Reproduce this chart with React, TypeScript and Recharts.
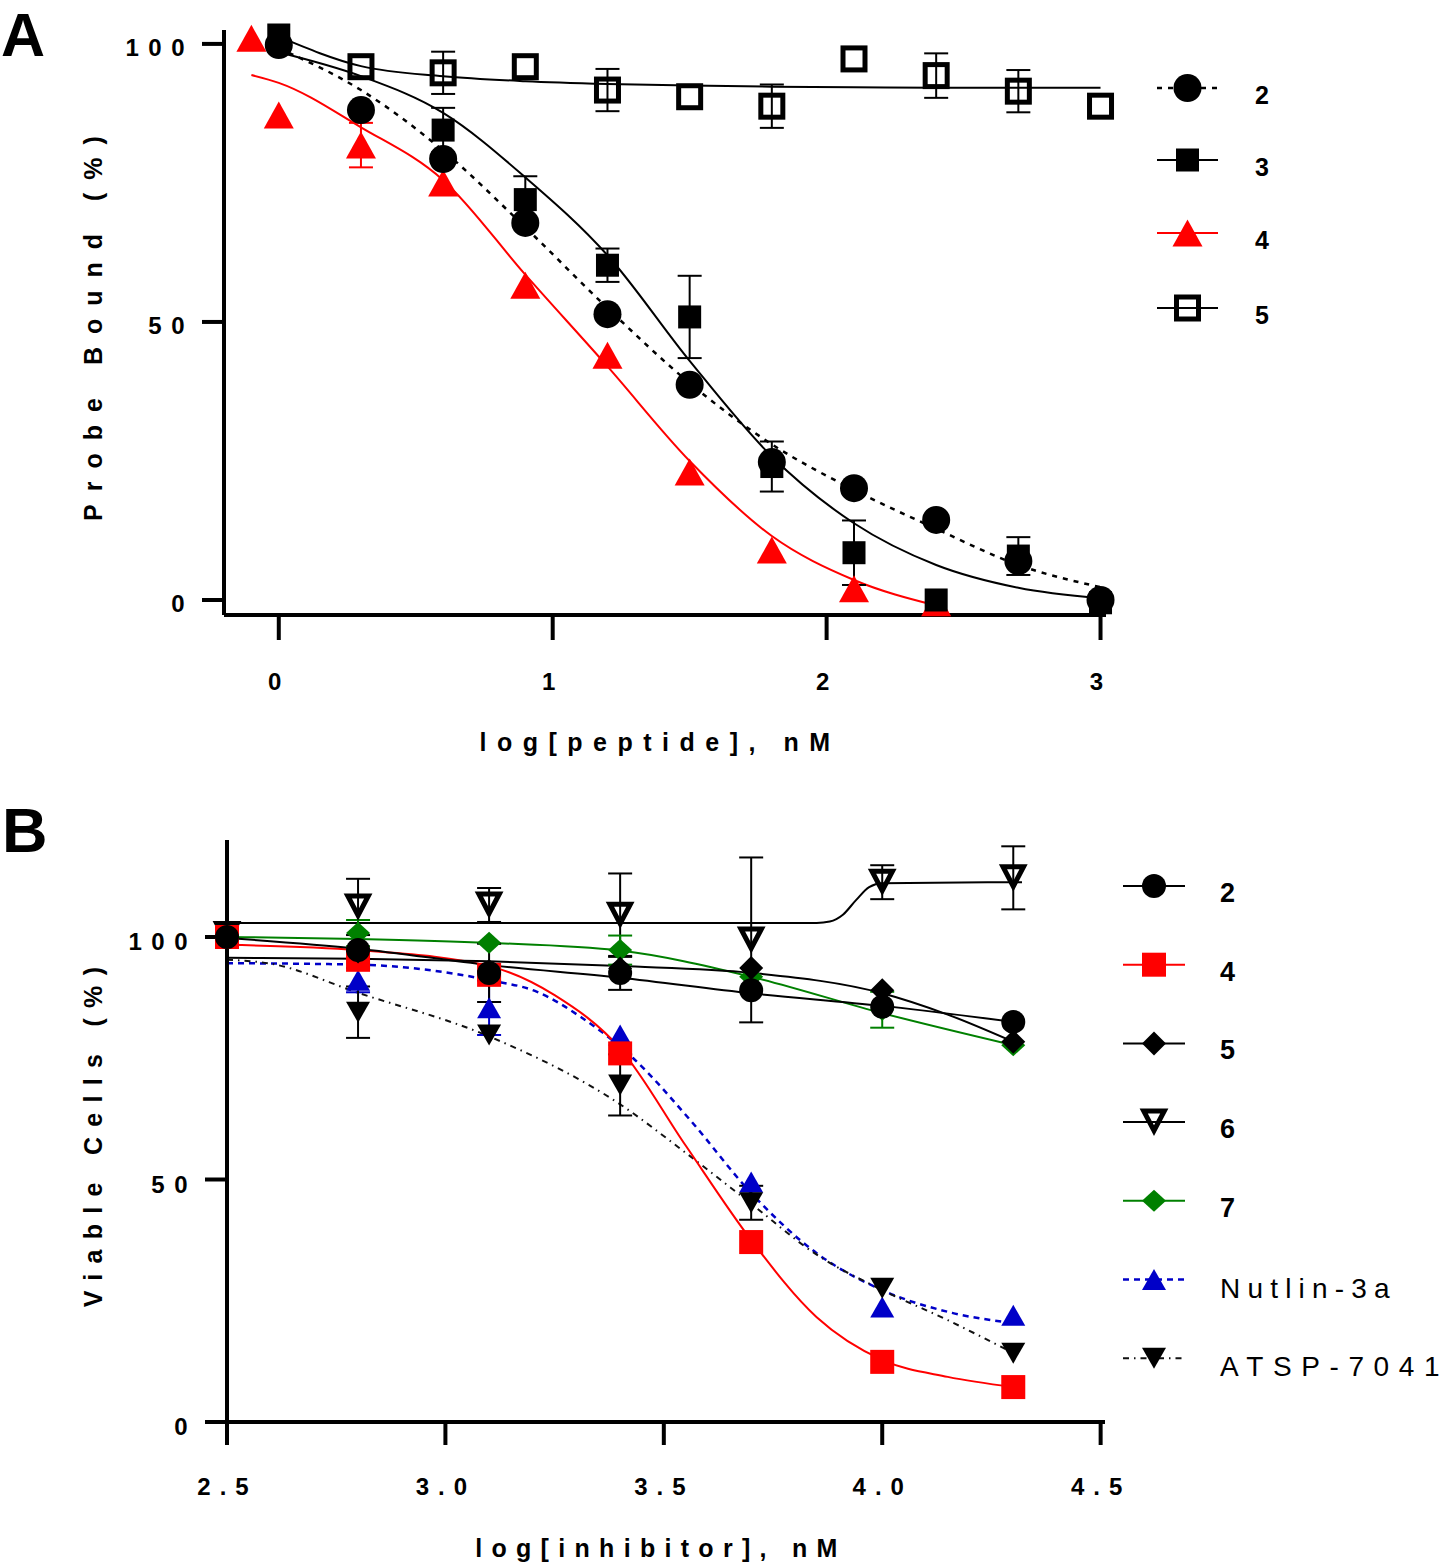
import React from "react";
import { ComposedChart, Line, Scatter, XAxis, YAxis, ErrorBar } from "recharts";

const FONT = "'Liberation Sans', Arial, Helvetica, sans-serif";

// ---------- panel A : probe bound vs log[peptide]
const aX = [0, 0.3, 0.6, 0.9, 1.2, 1.5, 1.8, 2.1, 2.4, 2.7, 3];
const aX3 = [0, 0.6, 0.9, 1.2, 1.5, 1.8, 2.1, 2.4, 2.7, 3];
const aX4 = [-0.1, 0, 0.3, 0.6, 0.9, 1.2, 1.5, 1.8, 2.1, 2.4];
const aX5 = [0.3, 0.6, 0.9, 1.2, 1.5, 1.8, 2.1, 2.4, 2.7, 3];

const a2 = [99.8, 88.1, 79.3, 67.8, 51.4, 38.7, 24.8, 20.1, 14.4, 7.0, 0];
const a3 = [101.6, 84.5, 72, 60.2, 50.9, 24, 8.5, 0, 7.9, -0.5];
const a3Err = [0, 4, 4.2, 3, 7.4, 4.5, 5.8, 0, 3.4, 0];
const a4 = [101, 87.2, 81.8, 75, 56.6, 44, 23, 9, 2, -0.5];
const a4Err = [0, 0, 4, 0, 0, 0, 0, 0, 0, 0];
const a5 = [95.9, 94.8, 95.9, 91.7, 90.5, 88.8, 97.3, 94.3, 91.5, 88.8];
const a5Err = [0, 3.8, 0, 3.8, 0, 3.9, 0, 4, 3.8, 0];

// fitted curves
const a2Fit = [99.2, 91.7, 80.8, 67, 52.5, 39, 28, 19.8, 12.8, 6.3, 2.3];
const a3Fit = [98.5, 94.2, 87.6, 76, 62, 43, 25.8, 13.8, 6.3, 2.2, 0.3];
const a4Fit = [94.4, 93, 85, 75.5, 58.5, 42, 25, 11.5, 3.6, -1];
const a5Fit = [101.3, 96, 94.2, 93.3, 92.8, 92.5, 92.3, 92.2, 92.1, 92.1, 92.1];

const aTicksX = [0, 1, 2, 3];
const aTicksY = [0, 50, 100];

// ---------- panel B : viable cells vs log[inhibitor]
const bX = [2.5, 2.8, 3.1, 3.4, 3.7, 4.0, 4.3];
const b2 = [100, 97.3, 92.6, 92.6, 89, 85.6, 82.5];
const b2Err = [0, 0, 6, 3.5, 0, 0, 0];
const b4 = [100, 95.3, 92.2, 76, 37.1, 12.4, 7.2];
const b5 = [100, 97, 93, 93.5, 93.6, 89, 78.4];
const b6 = [100.5, 106.2, 106.6, 104.5, 99.4, 111.3, 112.2];
const b6Err = [0, 5.8, 3.5, 8.6, 17, 3.5, 6.5];
const b7 = [100, 100.8, 98.8, 97.3, 91.8, 85, 77.7];
const b7Err = [0, 2.7, 0, 3, 0, 3.7, 0];
const bNut = [100, 91.1, 85.4, 79.8, 49.5, 23.7, 22];
const bNutErr = [0, 2.5, 5.6, 0, 0, 0, 0];
const bAtsp = [100, 84.5, 79.8, 69.5, 45.2, 27.6, 14.2];
const bAtspErr = [0, 5.3, 0, 6.3, 3.5, 0, 0];

const b2Fit = [99.8, 97.6, 94.2, 91.6, 88.4, 85.8, 82.5];
const b4FitX = [2.5, 2.8, 3.1, 3.25, 3.4, 3.55, 3.7, 3.85, 4.0, 4.15, 4.3];
const b4Fit = [98.4, 97.3, 94, 88, 77, 57, 37.5, 21.6, 12.8, 9.3, 7.2];
const b5FitX = [2.5, 2.8, 3.1, 3.4, 3.7, 4.0, 4.15, 4.3];
const b5Fit = [95.7, 95.5, 95, 94, 92.6, 88.4, 84, 78.4];
const b6FitX = [2.5, 3.0, 3.5, 3.85, 3.88, 3.91, 3.94, 3.97, 4.0, 4.32];
const b6Fit = [102.9, 102.9, 102.9, 102.9, 103.2, 104.6, 107.6, 110.3, 111.1, 111.3];
const b7Fit = [100, 99.6, 98.8, 97.2, 91.8, 84.3, 77.7];
const bNutFitX = [2.5, 2.8, 3.1, 3.21, 3.31, 3.43, 3.56, 3.7, 3.85, 4.0, 4.16, 4.3];
const bNutFit = [94.6, 94.3, 91.1, 88.7, 83.5, 75, 62.3, 47.2, 34.8, 27.2, 22.5, 20.4];
const bAtspFitX = [2.5, 2.6, 2.8, 3.1, 3.4, 3.55, 3.7, 3.85, 4.0, 4.15, 4.3];
const bAtspFit = [95.3, 94.5, 88.5, 79.5, 65.5, 55.5, 45, 34.5, 27.2, 21, 14.2];

const bTicksX = [2.5, 3.0, 3.5, 4.0, 4.5];
const bTicksY = [0, 50, 100];

const toPts = (xs: number[], ys: number[], es?: number[]) =>
  xs.map((x, i) => ({ x, y: ys[i], e: es ? es[i] : 0 }));

type Kind = "circle" | "square" | "up" | "down" | "diamond";
type Style = { kind: Kind; w: number; h: number; color: string; open?: boolean };

function Mark({ cx, cy, kind, w, h, color, open }: Style & { cx?: number; cy?: number }) {
  if (cx == null || cy == null || isNaN(cx) || isNaN(cy)) return <g />;
  const sw = 5;
  const o = open ? sw / 2 : 0;
  const fill = open ? "none" : color;
  const stroke = open ? color : "none";
  const common = { fill, stroke, strokeWidth: open ? sw : 0, strokeLinejoin: "miter" as const };
  if (kind === "circle") return <circle cx={cx} cy={cy} r={w / 2 - o} {...common} />;
  if (kind === "square")
    return <rect x={cx - w / 2 + o} y={cy - h / 2 + o} width={w - 2 * o} height={h - 2 * o} {...common} />;
  if (kind === "diamond") {
    const p = `${cx},${cy - h / 2} ${cx + w / 2},${cy} ${cx},${cy + h / 2} ${cx - w / 2},${cy}`;
    return <polygon points={p} {...common} />;
  }
  if (kind === "up") {
    const p = `${cx},${cy - h / 2 + 2 * o} ${cx + w / 2 - 1.7 * o},${cy + h / 2 - o} ${cx - w / 2 + 1.7 * o},${cy + h / 2 - o}`;
    return <polygon points={p} {...common} />;
  }
  const p = `${cx},${cy + h / 2 - 2 * o} ${cx - w / 2 + 1.7 * o},${cy - h / 2 + o} ${cx + w / 2 - 1.7 * o},${cy - h / 2 + o}`;
  return <polygon points={p} {...common} />;
}

const shape = (s: Style) => (p: any) => <Mark cx={p.cx} cy={p.cy} {...s} />;
const noShape = () => <g />;

const axisStyle = { stroke: "#000", strokeWidth: 4 };
const tickText = { fontFamily: FONT, fontSize: 24, fontWeight: 700, fill: "#000" };

const xTick = (fmt: (v: number) => string, ls: number) => (p: any) => (
  <text x={p.x + ls / 2 - 4} y={p.y + 48} textAnchor="middle" letterSpacing={ls} {...tickText}>
    {fmt(p.payload.value)}
  </text>
);
const yTick = (dy: number) => (p: any) => (
  <text x={p.x - 15 + 9} y={p.payload.coordinate + dy} textAnchor="end" letterSpacing={9.5} {...tickText}>
    {String(p.payload.value)}
  </text>
);

type Series = { key: string; xs: number[]; ys: number[]; err?: number[]; style: Style };
type Fit = { key: string; xs: number[]; ys: number[]; color: string; dash?: string; width?: number };

const sA: Series[] = [
  { key: "5", xs: aX5, ys: a5, err: a5Err, style: { kind: "square", w: 27, h: 27, color: "#000", open: true } },
  { key: "4", xs: aX4, ys: a4, err: a4Err, style: { kind: "up", w: 30, h: 27, color: "#ff0000" } },
  { key: "3", xs: aX3, ys: a3, err: a3Err, style: { kind: "square", w: 23, h: 23, color: "#000" } },
  { key: "2", xs: aX, ys: a2, style: { kind: "circle", w: 28, h: 28, color: "#000" } },
];
const fA: Fit[] = [
  { key: "5", xs: aX, ys: a5Fit, color: "#000" },
  { key: "4", xs: aX4, ys: a4Fit, color: "#ff0000" },
  { key: "3", xs: aX, ys: a3Fit, color: "#000" },
  { key: "2", xs: aX, ys: a2Fit, color: "#000", dash: "5 6", width: 2.5 },
];

const BLUE = "#0000c8";
const GREEN = "#008000";
const sB: Series[] = [
  { key: "6", xs: bX, ys: b6, err: b6Err, style: { kind: "down", w: 29, h: 27, color: "#000", open: true } },
  { key: "7", xs: bX, ys: b7, err: b7Err, style: { kind: "diamond", w: 24, h: 22, color: GREEN } },
  { key: "Nutlin-3a", xs: bX, ys: bNut, err: bNutErr, style: { kind: "up", w: 24, h: 21, color: BLUE } },
  { key: "ATSP-7041", xs: bX, ys: bAtsp, err: bAtspErr, style: { kind: "down", w: 24, h: 21, color: "#000" } },
  { key: "4", xs: bX, ys: b4, style: { kind: "square", w: 24, h: 24, color: "#ff0000" } },
  { key: "5", xs: bX, ys: b5, style: { kind: "diamond", w: 24, h: 24, color: "#000" } },
  { key: "2", xs: bX, ys: b2, err: b2Err, style: { kind: "circle", w: 24, h: 24, color: "#000" } },
];
const fB: Fit[] = [
  { key: "6", xs: b6FitX, ys: b6Fit, color: "#000" },
  { key: "7", xs: bX, ys: b7Fit, color: GREEN },
  { key: "Nutlin-3a", xs: bNutFitX, ys: bNutFit, color: BLUE, dash: "6 5", width: 2.5 },
  { key: "ATSP-7041", xs: bAtspFitX, ys: bAtspFit, color: "#111", dash: "6 5 1.5 5", width: 2 },
  { key: "4", xs: b4FitX, ys: b4Fit, color: "#ff0000" },
  { key: "5", xs: b5FitX, ys: b5Fit, color: "#000" },
  { key: "2", xs: bX, ys: b2Fit, color: "#000" },
];

function layers(series: Series[], fits: Fit[]) {
  return [
    ...fits.map((f) => (
      <Line
        key={"fit" + f.key}
        data={toPts(f.xs, f.ys)}
        dataKey="y"
        type="monotone"
        stroke={f.color}
        strokeWidth={f.width ?? 2}
        strokeDasharray={f.dash}
        dot={false}
        activeDot={false}
        legendType="none"
        isAnimationActive={false}
      />
    )),
    ...series
      .filter((s) => s.err)
      .map((s) => (
        <Scatter
          key={"err" + s.key}
          data={toPts(s.xs, s.ys, s.err).filter((p) => p.e > 0)}
          dataKey="y"
          shape={noShape}
          legendType="none"
          isAnimationActive={false}
        >
          <ErrorBar dataKey="e" direction="y" width={12} stroke={s.style.color} strokeWidth={2} />
        </Scatter>
      )),
    ...series.map((s) => (
      <Scatter
        key={"pts" + s.key}
        data={toPts(s.xs, s.ys)}
        dataKey="y"
        shape={shape(s.style)}
        legendType="none"
        isAnimationActive={false}
      />
    )),
  ];
}

function LegendRow({ y, x1, x2, fit, style, label, labelX, bold, size, ls }: any) {
  const mx = (x1 + x2) / 2;
  return (
    <g>
      <line x1={x1} x2={x2} y1={y} y2={y} stroke={fit.color} strokeWidth={fit.width ?? 2} strokeDasharray={fit.dash} />
      <Mark cx={mx} cy={y} {...style} />
      <text
        x={labelX}
        y={y + (bold ? 16 : 18)}
        fontFamily={FONT}
        fontSize={size}
        fontWeight={bold ? 700 : 400}
        letterSpacing={ls}
        fill="#000"
      >
        {label}
      </text>
    </g>
  );
}

const legendAOrder = ["2", "3", "4", "5"];
const legendBOrder = ["2", "4", "5", "6", "7", "Nutlin-3a", "ATSP-7041"];

export default function App() {
  return (
    <div style={{ position: "absolute", left: 0, top: 0, width: 1453, height: 1565, overflow: "hidden", background: "#fff" }}>
      <div style={{ position: "absolute", left: 0, top: 0 }}>
        <ComposedChart width={1453} height={780} margin={{ top: 30, right: 347, bottom: 65, left: 144 }}>
          <XAxis
            type="number"
            dataKey="x"
            domain={[-0.2, 3.02]}
            ticks={aTicksX}
            interval={0}
            height={100}
            tickSize={25}
            axisLine={axisStyle}
            tickLine={axisStyle}
            tick={xTick((v) => String(v), 9)}
          />
          <YAxis
            type="number"
            domain={[-2.7, 102.5]}
            ticks={aTicksY}
            interval={0}
            width={80}
            tickSize={22}
            axisLine={axisStyle}
            tickLine={axisStyle}
            tick={yTick(12)}
          />
          {layers(sA, fA)}
        </ComposedChart>
      </div>
      <div style={{ position: "absolute", left: 0, top: 780 }}>
        <ComposedChart width={1453} height={785} margin={{ top: 60, right: 348, bottom: 43, left: 147 }}>
          <XAxis
            type="number"
            dataKey="x"
            domain={[2.5, 4.51]}
            ticks={bTicksX}
            interval={0}
            height={100}
            tickSize={23}
            axisLine={axisStyle}
            tickLine={axisStyle}
            tick={xTick((v) => v.toFixed(1), 9)}
          />
          <YAxis
            type="number"
            domain={[0, 120]}
            ticks={bTicksY}
            interval={0}
            width={80}
            tickSize={22}
            axisLine={axisStyle}
            tickLine={axisStyle}
            tick={yTick(13)}
          />
          {layers(sB, fB)}
        </ComposedChart>
      </div>
      <svg width={1453} height={1565} style={{ position: "absolute", left: 0, top: 0, pointerEvents: "none" }}>
        <text x={1} y={56} fontFamily={FONT} fontSize={61} fontWeight={700}>A</text>
        <text x={2} y={852} fontFamily={FONT} fontSize={63} fontWeight={700}>B</text>

        <text x={655 + 5} y={751} textAnchor="middle" fontFamily={FONT} fontSize={25} fontWeight={700} letterSpacing={10.5}>
          log[peptide], nM
        </text>
        <text
          x={102}
          y={322}
          transform="rotate(-90 102 322)"
          textAnchor="middle"
          fontFamily={FONT}
          fontSize={25}
          fontWeight={700}
          letterSpacing={13}
        >
          Probe Bound (%)
        </text>
        <text x={656 + 5} y={1557} textAnchor="middle" fontFamily={FONT} fontSize={25} fontWeight={700} letterSpacing={9.3}>
          log[inhibitor], nM
        </text>
        <text
          x={102}
          y={1132}
          transform="rotate(-90 102 1132)"
          textAnchor="middle"
          fontFamily={FONT}
          fontSize={25}
          fontWeight={700}
          letterSpacing={10.3}
        >
          Viable Cells (%)
        </text>

        {legendAOrder.map((k, i) => {
          const s = sA.find((d) => d.key === k)!;
          const f = fA.find((d) => d.key === k)!;
          return (
            <LegendRow
              key={"la" + k}
              y={[88, 160, 233, 308][i]}
              x1={1157}
              x2={1218}
              fit={f}
              style={s.style}
              label={k}
              labelX={1255}
              bold
              size={25}
              ls={0}
            />
          );
        })}
        {legendBOrder.map((k, i) => {
          const s = sB.find((d) => d.key === k)!;
          const f = fB.find((d) => d.key === k)!;
          const bold = k.length === 1;
          return (
            <LegendRow
              key={"lb" + k}
              y={886 + i * 78.7}
              x1={1123}
              x2={1185}
              fit={f}
              style={s.style}
              label={k}
              labelX={1220}
              bold={bold}
              size={bold ? 27 : 28}
              ls={bold ? 0 : k === "Nutlin-3a" ? 7.2 : 9.6}
            />
          );
        })}
      </svg>
    </div>
  );
}
